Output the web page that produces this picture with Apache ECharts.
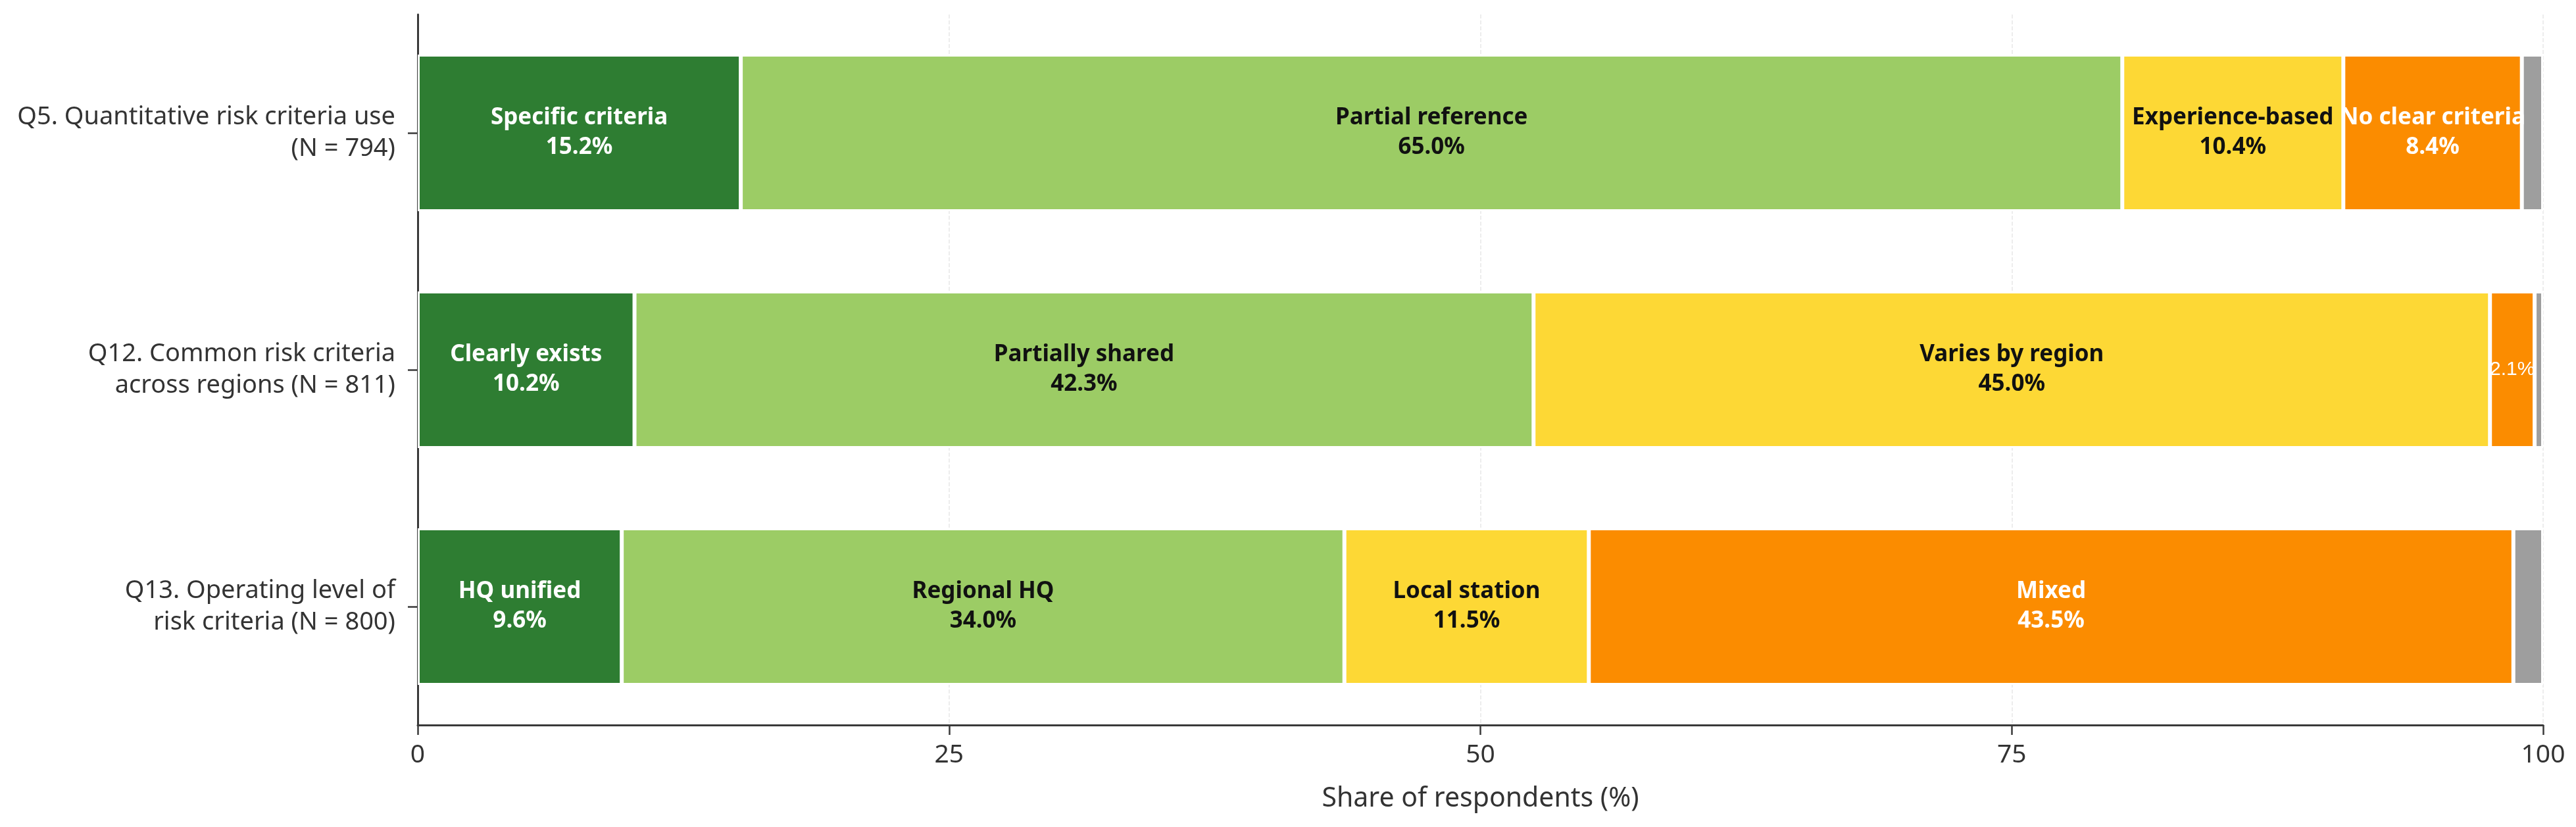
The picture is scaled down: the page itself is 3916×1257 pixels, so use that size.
<!DOCTYPE html>
<html>
<head>
<meta charset="utf-8">
<script src="https://cdn.jsdelivr.net/npm/echarts@6/dist/echarts.min.js"></script>
<style>
  html, body { margin: 0; padding: 0; background: #fff; }
  #chart { width: 3916px; height: 1257px; }
</style>
</head>
<body>
<div id="chart"></div>
<script>
// questions, top to bottom
const questions = [
  'Q5. Quantitative risk criteria use\n(N = 794)',
  'Q12. Common risk criteria\nacross regions (N = 811)',
  'Q13. Operating level of\nrisk criteria (N = 800)'
];

// answer names per question (last segment is the grey remainder)
const segNames = [
  ['Specific criteria', 'Partial reference', 'Experience-based', 'No clear criteria', ''],
  ['Clearly exists', 'Partially shared', 'Varies by region', '', ''],
  ['HQ unified', 'Regional HQ', 'Local station', 'Mixed', '']
];

// shares (%) per question
const segValues = [
  [15.2, 65.0, 10.4, 8.4, 1.0],
  [10.2, 42.3, 45.0, 2.1, 0.4],
  [9.6, 34.0, 11.5, 43.5, 1.4]
];

const xTicks = [0, 25, 50, 75, 100];

const colors = ['#2e7d32', '#9ccc65', '#fdd835', '#fb8c00', '#9e9e9e'];
const labelColors = ['#ffffff', '#111111', '#111111', '#ffffff', '#ffffff'];
const FONT = '"Noto Sans", "Open Sans", sans-serif';

const series = colors.map((c, i) => ({
  type: 'bar',
  stack: 'total',
  barWidth: 238,
  itemStyle: {
    color: c,
    borderColor: '#ffffff',
    borderWidth: 3
  },
  label: {
    show: i < 4,
    position: 'inside',
    color: labelColors[i],
    fontFamily: FONT,
    fontSize: 35,
    fontWeight: 'bold',
    lineHeight: 45,
    formatter: p => (p.name ? p.name + '\n' : '') + p.value.toFixed(1) + '%'
  },
  data: segValues.map((row, r) => {
    const item = { value: row[i], name: segNames[r][i] };
    if (i < 4 && !segNames[r][i]) {
      // tiny unnamed segment: only the value, smaller text
      item.label = { fontSize: 30, fontWeight: 'normal', fontFamily: '"Liberation Sans", sans-serif' };
    }
    return item;
  })
}));

const chart = echarts.init(document.getElementById('chart'), null, { renderer: 'canvas' });

chart.setOption({
  backgroundColor: '#ffffff',
  animation: false,
  grid: {
    left: 635,
    right: 50,
    top: 22,
    bottom: 155,
    containLabel: false
  },
  xAxis: {
    type: 'value',
    min: xTicks[0],
    max: xTicks[xTicks.length - 1],
    interval: 25,
    name: 'Share of respondents (%)',
    nameLocation: 'middle',
    nameGap: 92,
    nameTextStyle: { color: '#333333', fontFamily: FONT, fontSize: 41 },
    axisLine: { show: true, lineStyle: { color: '#3a3a3a', width: 3 } },
    axisTick: { show: true, length: 15, lineStyle: { color: '#3a3a3a', width: 2.5 } },
    axisLabel: { color: '#333333', fontFamily: FONT, fontSize: 39, margin: 26 },
    splitLine: {
      show: true,
      lineStyle: { color: '#dcdcdc', type: 'dashed', width: 1.5, opacity: 0.7 }
    }
  },
  yAxis: {
    type: 'category',
    inverse: true,
    data: questions,
    axisLine: { show: true, lineStyle: { color: '#3a3a3a', width: 3 } },
    axisTick: { show: true, alignWithLabel: true, length: 15, lineStyle: { color: '#3a3a3a', width: 2.5 } },
    axisLabel: {
      color: '#333333',
      fontFamily: FONT,
      fontSize: 38,
      lineHeight: 48,
      align: 'right',
      margin: 34
    },
    splitLine: { show: false }
  },
  series: series
});
</script>
</body>
</html>
